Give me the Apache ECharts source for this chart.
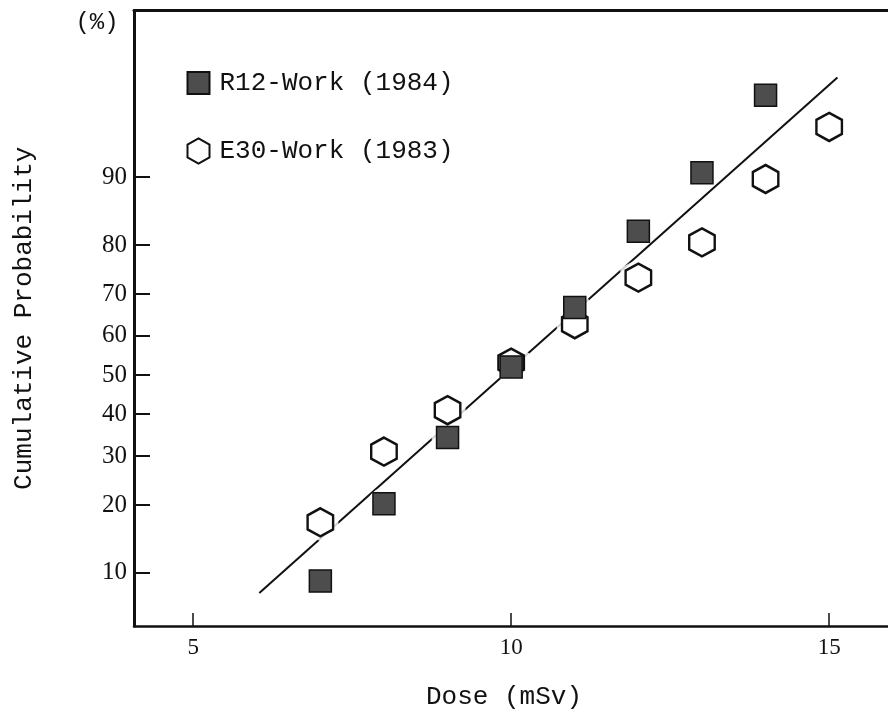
<!DOCTYPE html>
<html>
<head>
<meta charset="utf-8">
<title>Cumulative Probability vs Dose</title>
<script src="https://cdn.jsdelivr.net/npm/echarts@6/dist/echarts.min.js"></script>
<style>
  html, body { margin: 0; padding: 0; background: #fff; }
  #chart { width: 888px; height: 715px; }
</style>
</head>
<body>
<div id="chart"></div>
<script>
// Dose (mSv) and cumulative probability (%) for each survey
const r12Dose = [7, 8, 9, 10, 11, 12, 13, 14];
const r12Prob = [9.1, 20.2, 34.3, 52.1, 66.9, 82.4, 90.5, 96.5];
const e30Dose = [7, 8, 9, 10, 11, 12, 13, 14, 15];
const e30Prob = [17.0, 31.0, 41.0, 53.2, 62.9, 73.6, 80.5, 89.8, 94.6];

// End points of the fitted straight line on probability paper
const fitDose = [6.04, 15.13];
const fitProb = [7.9, 97.3];

// Axis ticks
const doseTicks = [5, 10, 15];
const probTicks = [10, 20, 30, 40, 50, 60, 70, 80, 90];
const seriesNames = ['R12-Work (1984)', 'E30-Work (1983)'];

// Inverse of the standard normal CDF (Acklam), used for the probability-paper scale
function probit(p) {
  const a = [-3.969683028665376e+01, 2.209460984245205e+02, -2.759285104469687e+02,
             1.383577518672690e+02, -3.066479806614716e+01, 2.506628277459239e+00];
  const b = [-5.447609879822406e+01, 1.615858368580409e+02, -1.556989798598866e+02,
             6.680131188771972e+01, -1.328068155288572e+01];
  const c = [-7.784894002430293e-03, -3.223964580411365e-01, -2.400758277161838e+00,
             -2.549671010102718e+00, 4.374664141464968e+00, 2.938163982698783e+00];
  const d = [7.784695709041462e-03, 3.224671290700398e-01, 2.445134137142996e+00,
             3.754408661907416e+00];
  const pl = 0.02425, ph = 1 - pl;
  let q, r;
  if (p < pl) {
    q = Math.sqrt(-2 * Math.log(p));
    return (((((c[0]*q+c[1])*q+c[2])*q+c[3])*q+c[4])*q+c[5]) /
           ((((d[0]*q+d[1])*q+d[2])*q+d[3])*q+1);
  }
  if (p <= ph) {
    q = p - 0.5; r = q * q;
    return (((((a[0]*r+a[1])*r+a[2])*r+a[3])*r+a[4])*r+a[5])*q /
           (((((b[0]*r+b[1])*r+b[2])*r+b[3])*r+b[4])*r+1);
  }
  q = Math.sqrt(-2 * Math.log(1 - p));
  return -(((((c[0]*q+c[1])*q+c[2])*q+c[3])*q+c[4])*q+c[5]) /
          ((((d[0]*q+d[1])*q+d[2])*q+d[3])*q+1);
}
const toZ = pct => probit(pct / 100);
const pairs = (xs, ps) => xs.map((x, i) => [x, toZ(ps[i])]);

const r12Data = pairs(r12Dose, r12Prob);
const e30Data = pairs(e30Dose, e30Prob);
const fitData = pairs(fitDose, fitProb);
const probTickZ = probTicks.map(toZ);

const squarePath = 'path://M0,0L1,0L1,1L0,1Z';
const hexPath = 'path://M0,-1L0.866,-0.5L0.866,0.5L0,1L-0.866,0.5L-0.866,-0.5Z';
const mono = '"Liberation Mono", "DejaVu Sans Mono", monospace';
const serif = '"Liberation Serif", "DejaVu Serif", serif';
const ink = '#111';

const chart = echarts.init(document.getElementById('chart'), null, { renderer: 'canvas' });

chart.setOption({
  animation: false,
  backgroundColor: '#fff',
  grid: { left: 134, right: 0, top: 10.5, bottom: 86.7 },
  legend: {
    data: [
      { name: seriesNames[0], icon: squarePath },
      { name: seriesNames[1], icon: hexPath }
    ],
    orient: 'vertical',
    left: 181.5,
    top: 64,
    itemWidth: 22,
    itemHeight: 28,
    itemGap: 40,
    selectedMode: false,
    textStyle: {
      fontFamily: mono, fontSize: 26, color: ink,
      lineHeight: 28, padding: [0, 0, 0, 5]
    }
  },
  xAxis: [
    {
      type: 'value',
      min: 4.07,
      max: 15.925,
      name: 'Dose (mSv)',
      nameLocation: 'middle',
      nameGap: 58,
      nameTextStyle: { fontFamily: mono, fontSize: 26, color: ink, padding: [0, 14, 0, 0] },
      axisLine: { show: true, onZero: false, lineStyle: { color: ink, width: 2.5 } },
      axisTick: { show: true, inside: true, length: 13, customValues: doseTicks,
                  lineStyle: { color: ink, width: 1.5 } },
      axisLabel: { customValues: doseTicks, margin: 10, fontFamily: serif, fontSize: 23, color: ink },
      splitLine: { show: false }
    },
    {
      type: 'value',
      position: 'top',
      min: 4.07,
      max: 15.925,
      axisLine: { show: true, onZero: false, lineStyle: { color: ink, width: 3 } },
      axisTick: { show: false },
      axisLabel: { show: false },
      splitLine: { show: false }
    }
  ],
  yAxis: {
    type: 'value',
    min: toZ(5.2),
    max: toZ(99.09),
    name: 'Cumulative Probability',
    nameLocation: 'middle',
    nameGap: 97,
    nameTextStyle: { fontFamily: mono, fontSize: 26, color: ink },
    axisLine: { show: true, onZero: false, lineStyle: { color: ink, width: 3 } },
    axisTick: { show: true, inside: true, length: 16, customValues: probTickZ,
                lineStyle: { color: ink, width: 2 } },
    axisLabel: {
      customValues: probTickZ,
      margin: 7,
      fontFamily: serif,
      fontSize: 25,
      color: ink,
      formatter: function (v) {
        let best = 0;
        probTickZ.forEach((z, i) => { if (Math.abs(z - v) < Math.abs(probTickZ[best] - v)) best = i; });
        return String(probTicks[best]);
      }
    },
    splitLine: { show: false }
  },
  graphic: [
    {
      type: 'text',
      x: 97, y: 23,
      style: { text: '(%)', font: '24px ' + mono, fill: ink, align: 'center', verticalAlign: 'middle' }
    }
  ],
  series: [
    {
      name: 'fit',
      type: 'line',
      data: fitData,
      showSymbol: false,
      symbol: 'none',
      silent: true,
      z: 1,
      lineStyle: { color: ink, width: 2 }
    },
    {
      // white clearance around the open markers so the fitted line breaks at them
      name: 'e30-clear',
      type: 'scatter',
      data: e30Data,
      symbol: hexPath,
      symbolSize: [36, 38],
      silent: true,
      z: 2,
      itemStyle: { color: '#fff', borderWidth: 0 }
    },
    {
      name: 'r12-clear',
      type: 'scatter',
      data: r12Data,
      symbol: 'circle',
      symbolSize: 32,
      silent: true,
      z: 2,
      itemStyle: { color: '#fff', borderWidth: 0 }
    },
    {
      name: seriesNames[1],
      type: 'scatter',
      data: e30Data,
      symbol: hexPath,
      symbolSize: [25.5, 28],
      symbolKeepAspect: false,
      silent: true,
      z: 3,
      itemStyle: { color: '#fff', borderColor: ink, borderWidth: 2.5, opacity: 1 }
    },
    {
      name: seriesNames[0],
      type: 'scatter',
      data: r12Data,
      symbol: squarePath,
      symbolSize: 22,
      silent: true,
      z: 4,
      itemStyle: { color: '#4d4d4d', borderColor: ink, borderWidth: 1.5, opacity: 1 }
    }
  ]
});
</script>
</body>
</html>
